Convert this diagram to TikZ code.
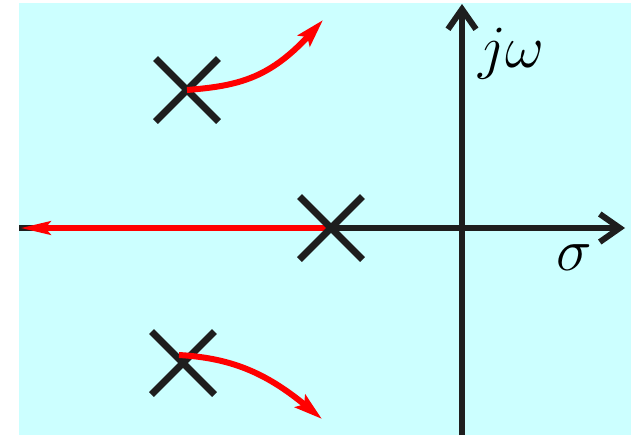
\RequirePackage{fix-cm}
\documentclass[tikz,border=0pt]{standalone}
\usetikzlibrary{arrows.meta,shapes.misc}
\definecolor{bgcyan}{RGB}{204,255,255}
\definecolor{ink}{RGB}{30,30,30}
\definecolor{locus}{RGB}{255,0,0}
\tikzset{
  axisline/.style={draw=ink, line width=6pt, -{Straight Barb[length=20pt,width=28pt,line width=6pt]}},
  pole/.style={cross out, draw=ink, line width=7pt, minimum size=56pt, inner sep=0pt},
  branch/.style={draw=locus, line width=6pt, -{Stealth[length=28pt,width=16pt,inset=5pt]}},
  lbl/.style={inner sep=0pt, anchor=base west, font=\fontsize{60}{66}\selectfont}
}
\begin{document}
\begin{tikzpicture}[x=1pt,y=-1pt]
\useasboundingbox (0,0) rectangle (631,437);
\fill[bgcyan] (19,3) rectangle (631,435);
% axes
\coordinate (xl) at (19,228);
\coordinate (xr) at (625,228);
\coordinate (yb) at (462,435);
\coordinate (yt) at (462,4);
\draw[axisline] (yb) -- (yt);
\draw[axisline] (xl) -- (xr);
\node[lbl] (jw) at (478,67) {$j\omega$};
\node[lbl] (sg) at (556,270) {$\sigma$};
% poles
\node[pole] (p1) at (187,90) {};
\node[pole] (p3) at (183,363) {};
% branches
\coordinate (e1) at (323,20);
\coordinate (e3) at (322,419);
\coordinate (e2) at (20,228);
\draw[branch] (p1.center) .. controls (235,86) and (268,80) .. (e1);
\draw[branch] (179,355) .. controls (230,358) and (265,372) .. (e3);
\draw[branch, -{Stealth[length=30pt,width=13pt,inset=5pt]}] (331,228) -- (e2);
\node[pole] (p2) at (331,228) {};
\end{tikzpicture}
\end{document}
